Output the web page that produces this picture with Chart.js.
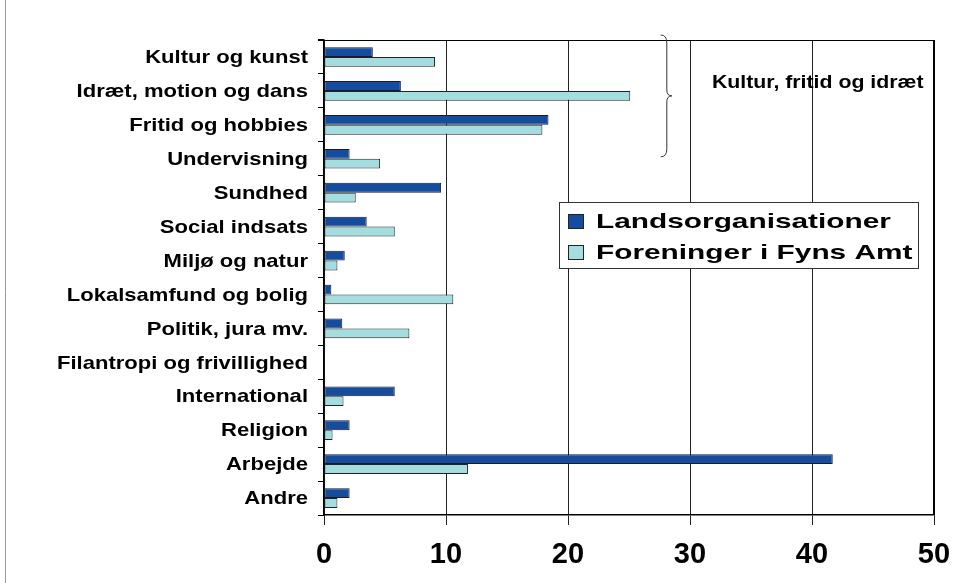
<!DOCTYPE html>
<html>
<head>
<meta charset="utf-8">
<script src="https://cdn.jsdelivr.net/npm/chart.js@4.4.0/dist/chart.umd.min.js"></script>
<style>
  html, body { margin: 0; padding: 0; background: #fff; }
  #wrap { width: 971px; height: 583px; position: relative; }
</style>
</head>
<body>
<div id="wrap"><canvas id="barChart" width="971" height="583"></canvas></div>
<script>
// categories, top to bottom
const categories = [
  "Kultur og kunst", "Idræt, motion og dans", "Fritid og hobbies", "Undervisning",
  "Sundhed", "Social indsats", "Miljø og natur", "Lokalsamfund og bolig",
  "Politik, jura mv.", "Filantropi og frivillighed", "International", "Religion",
  "Arbejde", "Andre"
];
const landsorg = [4.0, 6.3, 18.4, 2.1, 9.6, 3.5, 1.7, 0.6, 1.5, 0, 5.8, 2.1, 41.7, 2.1];
const fyn      = [9.1, 25.1, 17.9, 4.6, 2.6, 5.8, 1.1, 10.6, 7.0, 0, 1.6, 0.7, 11.8, 1.1];
const seriesNames = ["Landsorganisationer", "Foreninger i Fyns Amt"];
const xTicks = [0, 10, 20, 30, 40, 50];
const groupLabel = "Kultur, fritid og idræt";
const groupRange = [0, 2]; // first..last category under the brace

const DARK = "#154c9e";
const LIGHT = "#a3dde0";
const FONT = "'Liberation Sans', Arial, sans-serif";

// text stretched sideways, like the original export
function wideText(c, txt, x, y, sx, align) {
  c.save();
  c.translate(x, y);
  c.scale(sx, 1);
  c.textAlign = align;
  c.fillText(txt, 0, 0);
  c.restore();
}

const extras = {
  id: "extras",
  beforeDraw(chart) {
    const c = chart.ctx;
    c.save();
    c.fillStyle = "#fff";
    c.fillRect(0, 0, chart.width, chart.height);
    c.strokeStyle = "#999";
    c.lineWidth = 1;
    c.beginPath(); c.moveTo(5.5, 0); c.lineTo(5.5, chart.height); c.stroke();
    c.restore();
  },
  afterDraw(chart) {
    const c = chart.ctx, a = chart.chartArea;
    const x = chart.scales.x, y = chart.scales.y;
    c.save();
    // top + right frame
    c.strokeStyle = "#000";
    c.lineWidth = 1.2;
    c.beginPath(); c.moveTo(a.left - 6, a.top + 0.5); c.lineTo(a.right, a.top + 0.5); c.stroke();
    c.lineWidth = 2;
    c.beginPath(); c.moveTo(a.right, a.top); c.lineTo(a.right, a.bottom); c.stroke();

    // category labels
    c.fillStyle = "#000";
    c.textBaseline = "middle";
    c.font = "bold 19px " + FONT;
    categories.forEach((lab, i) => {
      wideText(c, lab, a.left - 16, y.getPixelForValue(i) + 1, 1.16, "right");
    });

    // value labels
    c.font = "bold 29px " + FONT;
    xTicks.forEach(v => {
      wideText(c, String(v), x.getPixelForValue(v), a.bottom + 40, 1.0, "center");
    });

    // brace
    const half = (y.getPixelForValue(1) - y.getPixelForValue(0)) / 2;
    const bTop = a.top - 5;
    const bBot = y.getPixelForValue(groupRange[1]) + half + 15;
    const bMid = (bTop + bBot) / 2;
    const bx = x.getPixelForValue(28.1);
    c.strokeStyle = "#333";
    c.lineWidth = 1;
    c.beginPath();
    c.moveTo(bx - 6, bTop);
    c.quadraticCurveTo(bx, bTop, bx, bTop + 8);
    c.lineTo(bx, bMid - 6);
    c.quadraticCurveTo(bx, bMid, bx + 5, bMid);
    c.quadraticCurveTo(bx, bMid, bx, bMid + 6);
    c.lineTo(bx, bBot - 8);
    c.quadraticCurveTo(bx, bBot, bx - 6, bBot);
    c.stroke();

    c.fillStyle = "#000";
    c.font = "bold 19px " + FONT;
    wideText(c, groupLabel, x.getPixelForValue(31.8), 83, 1.12, "left");

    // legend box
    const lx = 559, ly = 202, lw = 359, lh = 66;
    c.fillStyle = "#fff";
    c.fillRect(lx, ly, lw, lh);
    c.strokeStyle = "#333";
    c.lineWidth = 1;
    c.strokeRect(lx + 0.5, ly + 0.5, lw, lh);
    c.font = "bold 21px " + FONT;
    const cols = [DARK, LIGHT];
    seriesNames.forEach((n, i) => {
      const cy = ly + 19 + i * 31;
      c.fillStyle = cols[i];
      c.fillRect(lx + 9, cy - 7, 16, 15);
      c.strokeStyle = "#222";
      c.strokeRect(lx + 9.5, cy - 6.5, 15, 14);
      c.fillStyle = "#000";
      wideText(c, n, lx + 37, cy + 1, 1.42, "left");
    });
    c.restore();
  }
};

new Chart(document.getElementById("barChart"), {
  type: "bar",
  data: {
    labels: categories,
    datasets: [
      { label: seriesNames[0], data: landsorg, backgroundColor: DARK, borderColor: "#1a1a2a", borderWidth: 1, borderSkipped: false },
      { label: seriesNames[1], data: fyn, backgroundColor: LIGHT, borderColor: "#222", borderWidth: 1, borderSkipped: false }
    ]
  },
  options: {
    indexAxis: "y",
    responsive: false,
    animation: false,
    devicePixelRatio: 1,
    layout: { padding: { left: 0, right: 37, top: 40, bottom: 0 } },
    datasets: { bar: { categoryPercentage: 0.58, barPercentage: 1.0 } },
    plugins: { legend: { display: false }, tooltip: { enabled: false } },
    scales: {
      x: {
        min: 0, max: 50,
        afterBuildTicks: s => { s.ticks = xTicks.map(v => ({ value: v })); },
        afterFit: s => { s.height = 68; },
        grid: { color: "#222", lineWidth: 1, tickLength: 10, drawTicks: true },
        border: { color: "#000", width: 1.5 },
        ticks: { display: false }
      },
      y: {
        afterFit: s => { s.width = 324; },
        grid: { offset: true, drawOnChartArea: false, tickLength: 6, color: "#000" },
        border: { color: "#000", width: 1.5 },
        ticks: { display: false }
      }
    }
  },
  plugins: [extras]
});
</script>
</body>
</html>
